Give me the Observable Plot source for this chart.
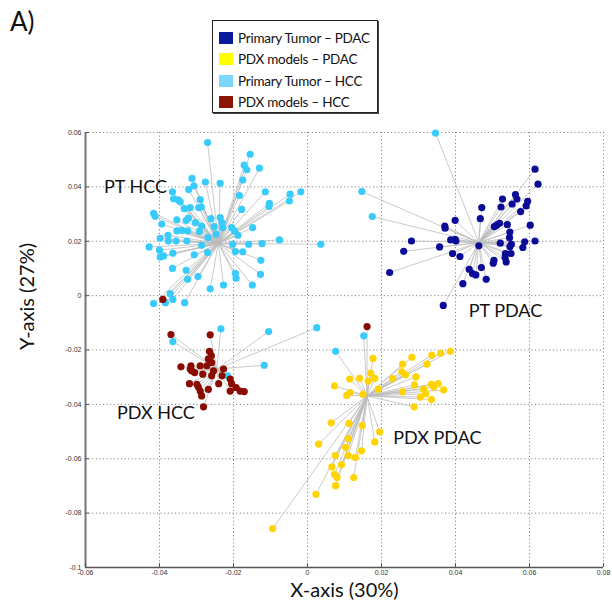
<!DOCTYPE html>
<html>
<head>
<meta charset="utf-8">
<script src="https://cdn.jsdelivr.net/npm/d3@7"></script>
<script src="https://cdn.jsdelivr.net/npm/@observablehq/plot@0.6"></script>
<style>
  html, body { margin: 0; padding: 0; background: #fff; }
  #wrap { position: relative; width: 612px; height: 606px; font-family: Lato, "Open Sans", sans-serif; }
  #panel { position: absolute; left: 10px; top: 5px; font-size: 26px; color: #111; }
  #legend { position: absolute; left: 212px; top: 20px; width: 166px; height: 93px;
            border: 1px solid #222; box-shadow: 1px 1px 0 #444; background: #fff;
            padding: 6px 0 0 6px; box-sizing: border-box; }
  .item { display: flex; align-items: center; height: 21.5px; font-size: 13.5px; letter-spacing: -0.25px; color: #111; white-space: nowrap; }
  .sw { width: 14px; height: 12px; margin-right: 5px; flex: none; }
  #chart { position: absolute; left: 0; top: 0; }
</style>
</head>
<body>
<div id="wrap">
  <div id="chart"></div>
  <div id="panel">A)</div>
  <div id="legend"></div>
</div>
<script>
// Group names, in legend order, with dot and legend swatch colours
const groups = ["Primary Tumor – PDAC", "PDX models – PDAC", "Primary Tumor – HCC", "PDX models – HCC"];
const dotColors = ["#0b0b98", "#ffd400", "#38cbfc", "#8a0c00"];
const swatchColors = ["#0a1a9c", "#ffff00", "#7dd6fc", "#8b1505"];

// Cluster centroids (each sample is linked to the centroid of its cluster)
const clusters = ["PT HCC", "PT PDAC", "PDX HCC", "PDX PDAC"];
const centroidX = [-0.0241, 0.0463, -0.0245, 0.0161];
const centroidY = [0.0192, 0.0195, -0.0270, -0.0369];

// Cluster annotations
const clusterLabels = ["PT HCC", "PT PDAC", "PDX HCC", "PDX PDAC"];
const clusterLabelX = [-0.0465, 0.0535, -0.0410, 0.0351];
const clusterLabelY = [0.0400, -0.0059, -0.0434, -0.0526];

// Axis ticks
const xTicks = [-0.06, -0.04, -0.02, 0, 0.02, 0.04, 0.06, 0.08];
const yTicks = [-0.1, -0.08, -0.06, -0.04, -0.02, 0, 0.02, 0.04, 0.06];

// Primary tumours, HCC — cluster "PT HCC"
const ptHcc = [
  [-0.0270, 0.0563], [-0.0155, 0.0520], [-0.0171, 0.0480], [-0.0164, 0.0463], [-0.0130, 0.0469],
  [-0.0312, 0.0431], [-0.0307, 0.0404], [-0.0276, 0.0418], [-0.0236, 0.0413], [-0.0175, 0.0425],
  [-0.0321, 0.0390], [-0.0365, 0.0382], [-0.0362, 0.0356], [-0.0349, 0.0352], [-0.0344, 0.0345],
  [-0.0290, 0.0353], [-0.0287, 0.0326], [-0.0294, 0.0324], [-0.0317, 0.0324], [-0.0333, 0.0320],
  [-0.0416, 0.0303], [-0.0412, 0.0292], [-0.0184, 0.0368], [-0.0178, 0.0317], [-0.0114, 0.0382],
  [-0.0047, 0.0373], [-0.0018, 0.0382], [-0.0049, 0.0348], [-0.0103, 0.0339], [-0.0104, 0.0328],
  [-0.0353, 0.0279], [-0.0328, 0.0277], [-0.0322, 0.0285], [-0.0303, 0.0269], [-0.0261, 0.0283],
  [-0.0236, 0.0287], [-0.0231, 0.0269], [-0.0394, 0.0263], [-0.0353, 0.0238], [-0.0340, 0.0240],
  [-0.0324, 0.0238], [-0.0292, 0.0236], [-0.0286, 0.0256], [-0.0252, 0.0254], [-0.0229, 0.0250],
  [-0.0205, 0.0250], [-0.0197, 0.0238], [-0.0188, 0.0222], [-0.0148, 0.0250], [-0.0377, 0.0222],
  [-0.0398, 0.0211], [-0.0376, 0.0201], [-0.0355, 0.0201], [-0.0326, 0.0201], [-0.0286, 0.0185],
  [-0.0269, 0.0213], [-0.0247, 0.0226], [-0.0428, 0.0179], [-0.0400, 0.0167], [-0.0389, 0.0146],
  [-0.0398, 0.0142], [-0.0364, 0.0156], [-0.0306, 0.0150], [-0.0270, 0.0158], [-0.0202, 0.0189],
  [-0.0195, 0.0162], [-0.0175, 0.0161], [-0.0159, 0.0189], [-0.0123, 0.0191], [-0.0076, 0.0205],
  [0.0036, 0.0189], [-0.0126, 0.0130], [-0.0127, 0.0078], [-0.0195, 0.0082], [-0.0193, 0.0064],
  [-0.0149, 0.0039], [-0.0227, 0.0039], [-0.0263, 0.0025], [-0.0296, 0.0070], [-0.0324, 0.0060],
  [-0.0328, 0.0093], [-0.0365, 0.0100], [-0.0371, 0.0007], [-0.0364, -0.0014], [-0.0384, -0.0026],
  [-0.0416, -0.0029], [-0.0332, -0.0026]
];
// PDX HCC sample falling in cluster "PT HCC"
const ptHccOther = [[-0.0391, -0.0014]];

// Primary tumours, PDAC — cluster "PT PDAC"
const ptPdac = [
  [0.0615, 0.0465], [0.0623, 0.0410], [0.0562, 0.0372], [0.0566, 0.0355], [0.0527, 0.0355],
  [0.0553, 0.0337], [0.0595, 0.0347], [0.0591, 0.0330], [0.0523, 0.0326], [0.0471, 0.0324],
  [0.0467, 0.0283], [0.0576, 0.0309], [0.0602, 0.0259], [0.0399, 0.0277], [0.0371, 0.0256],
  [0.0372, 0.0248], [0.0505, 0.0254], [0.0519, 0.0266], [0.0511, 0.0259], [0.0540, 0.0261],
  [0.0547, 0.0234], [0.0546, 0.0213], [0.0551, 0.0189], [0.0547, 0.0180], [0.0587, 0.0198],
  [0.0615, 0.0201], [0.0582, 0.0177], [0.0521, 0.0193], [0.0535, 0.0155], [0.0550, 0.0155],
  [0.0537, 0.0124], [0.0534, 0.0140], [0.0504, 0.0130], [0.0502, 0.0119], [0.0463, 0.0183],
  [0.0470, 0.0103], [0.0437, 0.0097], [0.0446, 0.0081], [0.0455, 0.0076], [0.0483, 0.0060],
  [0.0420, 0.0044], [0.0367, -0.0036], [0.0399, 0.0207], [0.0387, 0.0205], [0.0401, 0.0201],
  [0.0357, 0.0179], [0.0392, 0.0155], [0.0412, 0.0144], [0.0281, 0.0201], [0.0260, 0.0163],
  [0.0222, 0.0085]
];
// PT HCC samples falling in cluster "PT PDAC"
const ptPdacOther = [[0.0346, 0.0598], [0.0147, 0.0383], [0.0175, 0.0291]];

// PDX models, HCC — cluster "PDX HCC"
const pdxHcc = [
  [-0.0369, -0.0143], [-0.0263, -0.0144], [-0.0265, -0.0205], [-0.0260, -0.0221], [-0.0268, -0.0233],
  [-0.0259, -0.0246], [-0.0272, -0.0258], [-0.0342, -0.0262], [-0.0315, -0.0258], [-0.0313, -0.0277],
  [-0.0305, -0.0283], [-0.0290, -0.0258], [-0.0283, -0.0289], [-0.0254, -0.0277], [-0.0227, -0.0270],
  [-0.0231, -0.0295], [-0.0240, -0.0324], [-0.0259, -0.0295], [-0.0209, -0.0307], [-0.0205, -0.0324],
  [-0.0209, -0.0351], [-0.0193, -0.0338], [-0.0182, -0.0351], [-0.0171, -0.0353], [-0.0268, -0.0345],
  [-0.0295, -0.0336], [-0.0299, -0.0326], [-0.0319, -0.0324], [-0.0290, -0.0351], [-0.0286, -0.0369],
  [-0.0281, -0.0409], [-0.0317, -0.0270]
];
// PT HCC samples falling in cluster "PDX HCC"
const pdxHccOther = [
  [-0.0216, -0.0295], [-0.0234, -0.0122], [-0.0105, -0.0132], [0.0025, -0.0118], [-0.0364, -0.0169],
  [-0.0117, -0.0256]
];

// PDX models, PDAC — cluster "PDX PDAC"
const pdxPdac = [
  [0.0386, -0.0205], [0.0360, -0.0212], [0.0336, -0.0219], [0.0282, -0.0227], [0.0323, -0.0252],
  [0.0257, -0.0252], [0.0177, -0.0231], [0.0255, -0.0280], [0.0265, -0.0291], [0.0230, -0.0305],
  [0.0293, -0.0299], [0.0171, -0.0285], [0.0182, -0.0304], [0.0164, -0.0314], [0.0141, -0.0304],
  [0.0114, -0.0307], [0.0073, -0.0332], [0.0115, -0.0357], [0.0106, -0.0367], [0.0150, -0.0363],
  [0.0191, -0.0344], [0.0289, -0.0328], [0.0335, -0.0326], [0.0353, -0.0324], [0.0341, -0.0336],
  [0.0368, -0.0347], [0.0314, -0.0344], [0.0320, -0.0361], [0.0305, -0.0373], [0.0335, -0.0382],
  [0.0257, -0.0354], [0.0288, -0.0409], [0.0064, -0.0468], [0.0112, -0.0470], [0.0148, -0.0478],
  [0.0195, -0.0501], [0.0182, -0.0538], [0.0110, -0.0526], [0.0103, -0.0558], [0.0030, -0.0546],
  [0.0146, -0.0571], [0.0129, -0.0595], [0.0110, -0.0588], [0.0075, -0.0588], [0.0092, -0.0622],
  [0.0066, -0.0630], [0.0073, -0.0657], [0.0080, -0.0669], [0.0125, -0.0669], [0.0076, -0.0699],
  [0.0023, -0.0731], [-0.0094, -0.0857]
];
// PDX HCC and PT HCC samples falling in cluster "PDX PDAC"
const pdxPdacOtherPdxHcc = [[0.0161, -0.0114]];
const pdxPdacOtherPtHcc = [[0.0152, -0.0148], [0.0076, -0.0205]];

// Assemble one row per sample: its group, its cluster and its coordinates
function rows(points, group, cluster) {
  const c = clusters.indexOf(cluster);
  return points.map(([x, y]) => ({group, x, y, cx: centroidX[c], cy: centroidY[c]}));
}
const samples = [
  ...rows(ptHcc, groups[2], "PT HCC"),
  ...rows(ptHccOther, groups[3], "PT HCC"),
  ...rows(ptPdac, groups[0], "PT PDAC"),
  ...rows(ptPdacOther, groups[2], "PT PDAC"),
  ...rows(pdxHccOther, groups[2], "PDX HCC"),
  ...rows(pdxHcc, groups[3], "PDX HCC"),
  ...rows(pdxPdac, groups[1], "PDX PDAC"),
  ...rows(pdxPdacOtherPtHcc, groups[2], "PDX PDAC"),
  ...rows(pdxPdacOtherPdxHcc, groups[3], "PDX PDAC")
];
const labels = clusterLabels.map((t, i) => ({t, x: clusterLabelX[i], y: clusterLabelY[i]}));

const fmt = d => String(+d.toFixed(2));
const W = 612, H = 606, mL = 85, mR = 9, mT = 132, mB = 39;

const chart = Plot.plot({
  width: W, height: H,
  marginLeft: mL, marginRight: mR, marginTop: mT, marginBottom: mB,
  x: {domain: [-0.06, 0.08]},
  y: {domain: [-0.1, 0.06]},
  color: {domain: groups, range: dotColors},
  style: {fontFamily: "Lato, 'Open Sans', sans-serif", background: "transparent", overflow: "visible"},
  marks: [
    // dotted grid and dotted top/right edges
    Plot.gridX(xTicks, {stroke: "#666", strokeOpacity: 0.9, strokeDasharray: "1,2.6", strokeWidth: 1}),
    Plot.gridY(yTicks, {stroke: "#666", strokeOpacity: 0.9, strokeDasharray: "1,2.6", strokeWidth: 1}),
    // solid left and bottom axis lines
    Plot.ruleX([-0.06], {stroke: "#777", strokeWidth: 2}),
    Plot.ruleY([-0.1], {stroke: "#555", strokeWidth: 1.5}),
    // short inward tick marks
    Plot.ruleX(xTicks, {stroke: "#555", insetTop: H - mT - mB - 4}),
    Plot.ruleY(yTicks, {stroke: "#555", insetRight: W - mL - mR - 4}),
    Plot.axisX(xTicks, {tickSize: 0, tickPadding: 3, tickFormat: fmt, fontSize: 7, fill: "#333",
                        fontFamily: "'Liberation Sans', Arial, sans-serif", label: null}),
    Plot.axisY(yTicks, {tickSize: 0, tickPadding: 4, tickFormat: fmt, fontSize: 7, fill: "#333",
                        fontFamily: "'Liberation Sans', Arial, sans-serif", label: null}),
    // links from each cluster centroid to its samples
    Plot.link(samples, {x1: "cx", y1: "cy", x2: "x", y2: "y", stroke: "#bdbdbd", strokeWidth: 0.8}),
    Plot.dot(samples, {x: "x", y: "y", fill: "group", r: 3.6}),
    // cluster annotations
    Plot.text(labels, {x: "x", y: "y", text: "t", fontSize: 18, fill: "#111"}),
    // axis titles
    Plot.text(["X-axis (30%)"], {frameAnchor: "bottom", dy: 29, fontSize: 20, fill: "#111"}),
    Plot.text(["Y-axis (27%)"], {frameAnchor: "left", dx: -58, rotate: -90, fontSize: 20, fill: "#111"})
  ]
});
document.getElementById("chart").appendChild(chart);

// legend box
const legend = d3.select("#legend");
groups.forEach((g, i) => {
  const item = legend.append("div").attr("class", "item");
  item.append("div").attr("class", "sw").style("background", swatchColors[i]);
  item.append("span").text(g);
});
</script>
</body>
</html>
